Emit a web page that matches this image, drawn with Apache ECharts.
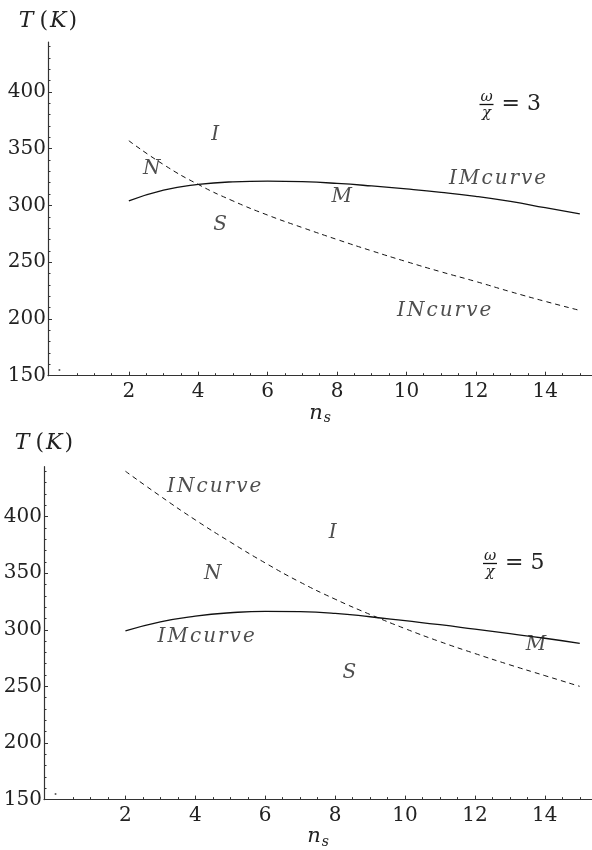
<!DOCTYPE html>
<html>
<head>
<meta charset="utf-8">
<script src="https://cdn.jsdelivr.net/npm/echarts@6/dist/echarts.min.js"></script>
<style>
html,body{margin:0;padding:0;background:#fff;}
#c{width:592px;height:850px;}
</style>
</head>
<body>
<div id="c"></div>
<script>
// ---- data ----
const nsValues = [2, 3, 4, 5, 6, 7, 8, 9, 10, 11, 12, 13, 14, 15];
// panel 1 (omega/chi = 3)
const imCurveTop = [304, 313.5, 318.5, 320.8, 321.4, 320.9, 319.4, 317.2, 314.6, 311.6, 308, 303.5, 298, 292.5];
const inCurveTop = [357, 336, 318.5, 304, 291.5, 280.5, 270, 260, 250.5, 241.5, 233, 224, 215.5, 207.5];
// panel 2 (omega/chi = 5)
const imCurveBot = [299, 307, 312, 315, 316.3, 316, 314.5, 311.5, 308, 304.5, 300.5, 296.5, 292.5, 288];
const inCurveBot = [440, 418, 397, 377.5, 359, 342, 327, 313.5, 301, 289.5, 279, 269, 259.5, 250];

const xMajorTicks = [2, 4, 6, 8, 10, 12, 14];
const xMinorTicks = [0.5, 1, 1.5, 2.5, 3, 3.5, 4.5, 5, 5.5, 6.5, 7, 7.5, 8.5, 9, 9.5, 10.5, 11, 11.5, 12.5, 13, 13.5, 14.5, 15];
const yMajorTicks = [150, 200, 250, 300, 350, 400];
const yMinorTicks = [160, 170, 180, 190, 210, 220, 230, 240, 260, 270, 280, 290, 310, 320, 330, 340, 360, 370, 380, 390, 410, 420, 430, 440];

const annotTopNames = ['I', 'N', 'S', 'M', 'IMcurve', 'INcurve'];
const annotTopX = [4.49, 2.66, 4.63, 8.14, 12.63, 11.09];
const annotTopY = [362, 332.6, 282.7, 307.6, 323.8, 207];
const annotBotNames = ['INcurve', 'I', 'N', 'IMcurve', 'S', 'M'];
const annotBotX = [4.54, 7.93, 4.5, 4.31, 8.41, 13.75];
const annotBotY = [426.2, 385.5, 349, 293.7, 261.7, 286.4];
const originDot = [[0, 155]];

const xRange = [-0.33, 15.35];
const yRange = [150, 444];

// ---- chart ----
const FONT = 'DejaVu Serif';
const AX = '#333';
const TXT = '#222';

function pairs(xs, ys) { return xs.map((x, i) => [x, ys[i]]); }
function spaced(s) { return s.split('').map(c => '{c|' + c + '}').join(''); }

function xAxes(g, gap) {
  return [
    {
      type: 'value', gridIndex: g, min: xRange[0], max: xRange[1], position: 'bottom',
      axisLine: { show: true, onZero: false, lineStyle: { color: AX, width: 1.2 } },
      axisTick: { show: true, inside: true, length: 4, customValues: xMajorTicks, lineStyle: { color: AX } },
      axisLabel: { show: true, customValues: xMajorTicks, margin: 6, color: TXT, fontFamily: FONT, fontSize: 20 },
      splitLine: { show: false },
      name: '{n|n}{s|s}', nameLocation: 'middle', nameGap: gap,
      nameTextStyle: {
        rich: {
          n: { fontFamily: FONT, fontStyle: 'italic', fontSize: 21, color: TXT, lineHeight: 24 },
          s: { fontFamily: FONT, fontStyle: 'italic', fontSize: 14, color: TXT, padding: [10, 0, 0, 1] }
        }
      }
    },
    {
      type: 'value', gridIndex: g, min: xRange[0], max: xRange[1], position: 'bottom',
      axisLine: { show: false, onZero: false },
      axisTick: { show: true, inside: true, length: 2.5, customValues: xMinorTicks, lineStyle: { color: AX } },
      axisLabel: { show: false },
      splitLine: { show: false }
    }
  ];
}
function yAxes(g, gap) {
  return [
    {
      type: 'value', gridIndex: g, min: yRange[0], max: yRange[1], position: 'left',
      axisLine: { show: true, onZero: false, lineStyle: { color: AX, width: 1.2 } },
      axisTick: { show: true, inside: true, length: 4, customValues: yMajorTicks, lineStyle: { color: AX } },
      axisLabel: { show: true, customValues: yMajorTicks, margin: 2, color: TXT, fontFamily: FONT, fontSize: 20 },
      splitLine: { show: false },
      name: '{i|T}{r|(}{k|K}{r|)}', nameLocation: 'end', nameGap: gap,
      nameTextStyle: {
        rich: {
          i: { fontFamily: FONT, fontStyle: 'italic', fontSize: 22, color: TXT, lineHeight: 26, padding: [0, 6, 0, 0] },
          k: { fontFamily: FONT, fontStyle: 'italic', fontSize: 22, color: TXT, lineHeight: 26, padding: [0, 2, 0, 2] },
          r: { fontFamily: FONT, fontSize: 22, color: TXT, lineHeight: 26 }
        }
      }
    },
    {
      type: 'value', gridIndex: g, min: yRange[0], max: yRange[1], position: 'left', offset: 0,
      axisLine: { show: false, onZero: false },
      axisTick: { show: true, inside: true, length: 2.5, customValues: yMinorTicks, lineStyle: { color: AX } },
      axisLabel: { show: false },
      splitLine: { show: false }
    }
  ];
}

function curve(xi, yi, ys, dashed) {
  return {
    type: 'line', xAxisIndex: xi, yAxisIndex: yi, data: pairs(nsValues, ys),
    smooth: 0.5, showSymbol: false, symbol: 'none', silent: true,
    lineStyle: { color: '#111', width: dashed ? 1 : 1.3, type: dashed ? [5, 4] : 'solid' },
    z: 3
  };
}
function labels(xi, yi, names, xs, ys) {
  return {
    type: 'scatter', xAxisIndex: xi, yAxisIndex: yi, symbolSize: 1, silent: true,
    itemStyle: { color: 'rgba(0,0,0,0)' },
    data: names.map((n, i) => ({ name: n, value: [xs[i], ys[i]] })),
    label: {
      show: true, position: 'inside', formatter: p => spaced(p.name),
      rich: { c: { fontFamily: FONT, fontStyle: 'italic', fontSize: 20, color: TXT, padding: [0, 1, 0, 1] } }
    },
    z: 4
  };
}
function dot(xi, yi) {
  return {
    type: 'scatter', xAxisIndex: xi, yAxisIndex: yi, symbolSize: 2, silent: true,
    itemStyle: { color: '#333' }, data: originDot
  };
}

function fraction(cx, by, rhs) {
  return [
    { type: 'text', x: cx, y: by - 7.5, style: { text: 'ω', font: 'italic 15px "DejaVu Serif"', fill: TXT, align: 'center', verticalAlign: 'middle' } },
    { type: 'line', shape: { x1: cx - 7, y1: by, x2: cx + 7, y2: by }, style: { stroke: '#111', lineWidth: 1.3 } },
    { type: 'text', x: cx, y: by + 9, style: { text: 'χ', font: 'italic 15px "DejaVu Serif"', fill: TXT, align: 'center', verticalAlign: 'middle' } },
    { type: 'text', x: cx + 15, y: by, style: { text: rhs, font: '22px "DejaVu Serif"', fill: TXT, align: 'left', verticalAlign: 'middle' } }
  ];
}

const chart = echarts.init(document.getElementById('c'), null, { renderer: 'canvas' });
chart.setOption({
  animation: false,
  backgroundColor: '#fff',
  grid: [
    { left: 48, top: 42, width: 544, height: 333.7 },
    { left: 44, top: 466.7, width: 548, height: 336 }
  ],
  xAxis: [...xAxes(0, 20), ...xAxes(1, 24)],
  yAxis: [...yAxes(0, 8), ...yAxes(1, 10)],
  series: [
    curve(0, 0, imCurveTop, false),
    curve(0, 0, inCurveTop, true),
    labels(0, 0, annotTopNames, annotTopX, annotTopY),
    dot(0, 0),
    curve(2, 2, imCurveBot, false),
    curve(2, 2, inCurveBot, true),
    labels(2, 2, annotBotNames, annotBotX, annotBotY),
    dot(2, 2)
  ],
  graphic: [
    ...fraction(486.5, 104.5, '= 3'),
    ...fraction(490, 563.5, '= 5')
  ]
});
</script>
</body>
</html>
